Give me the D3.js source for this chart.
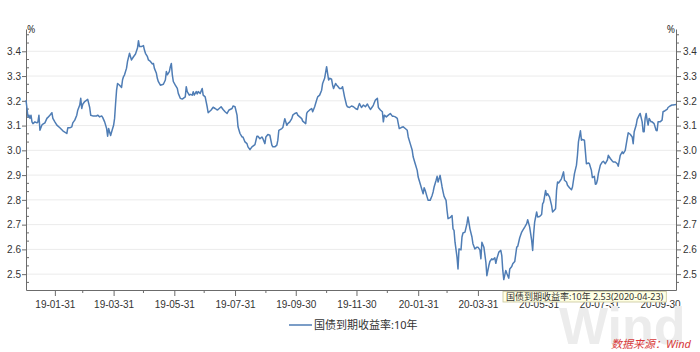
<!DOCTYPE html>
<html>
<head>
<meta charset="utf-8">
<script src="https://cdn.jsdelivr.net/npm/d3@7"></script>
<style>
  body { margin: 0; background: #fff; }
  svg { display: block; font-family: "Noto Sans", "Noto Sans CJK SC", sans-serif; }
</style>
</head>
<body>
<div id="chart-container"></div>
<script>
// DATA
const series = [
["2019-01-02",3.203],["2019-01-03",3.169],["2019-01-04",3.135],["2019-01-05",3.142],["2019-01-06",3.129],["2019-01-07",3.142],["2019-01-08",3.115],["2019-01-09",3.108],["2019-01-11",3.115],["2019-01-13",3.111],["2019-01-14",3.115],["2019-01-15",3.142],["2019-01-16",3.081],["2019-01-18",3.102],["2019-01-19",3.106],["2019-01-21",3.111],["2019-01-23",3.129],["2019-01-24",3.133],["2019-01-26",3.142],["2019-01-28",3.152],["2019-01-29",3.129],["2019-01-31",3.115],
["2019-02-02",3.102],["2019-02-05",3.091],["2019-02-08",3.079],["2019-02-12",3.068],["2019-02-13",3.091],["2019-02-15",3.091],["2019-02-17",3.095],["2019-02-18",3.111],["2019-02-20",3.122],["2019-02-22",3.142],["2019-02-23",3.162],["2019-02-25",3.183],["2019-02-26",3.210],["2019-02-27",3.169],["2019-02-28",3.186],
["2019-03-02",3.197],["2019-03-04",3.203],["2019-03-05",3.206],["2019-03-07",3.173],["2019-03-08",3.142],["2019-03-10",3.139],["2019-03-14",3.139],["2019-03-15",3.142],["2019-03-17",3.135],["2019-03-19",3.139],["2019-03-20",3.133],["2019-03-22",3.115],["2019-03-24",3.088],["2019-03-25",3.057],["2019-03-26",3.088],["2019-03-28",3.060],["2019-03-29",3.074],["2019-03-31",3.101],
["2019-04-01",3.129],["2019-04-02",3.189],["2019-04-03",3.243],["2019-04-04",3.270],["2019-04-06",3.263],["2019-04-08",3.254],["2019-04-09",3.285],["2019-04-10",3.298],["2019-04-11",3.305],["2019-04-13",3.332],["2019-04-14",3.359],["2019-04-16",3.392],["2019-04-17",3.378],["2019-04-18",3.365],["2019-04-20",3.378],["2019-04-22",3.389],["2019-04-24",3.413],["2019-04-25",3.443],["2019-04-26",3.419],["2019-04-28",3.419],["2019-04-30",3.423],
["2019-05-01",3.405],["2019-05-02",3.392],["2019-05-04",3.378],["2019-05-05",3.365],["2019-05-07",3.359],["2019-05-09",3.349],["2019-05-10",3.351],["2019-05-11",3.331],["2019-05-13",3.311],["2019-05-14",3.290],["2019-05-15",3.277],["2019-05-17",3.263],["2019-05-20",3.267],["2019-05-22",3.284],["2019-05-23",3.318],["2019-05-24",3.305],["2019-05-26",3.318],["2019-05-27",3.338],["2019-05-28",3.351],["2019-05-29",3.305],["2019-05-30",3.278],
["2019-06-01",3.263],["2019-06-03",3.250],["2019-06-04",3.230],["2019-06-06",3.210],["2019-06-08",3.207],["2019-06-09",3.210],["2019-06-11",3.216],["2019-06-12",3.257],["2019-06-13",3.237],["2019-06-15",3.223],["2019-06-16",3.226],["2019-06-18",3.223],["2019-06-19",3.237],["2019-06-20",3.223],["2019-06-22",3.237],["2019-06-23",3.228],["2019-06-24",3.237],["2019-06-26",3.230],["2019-06-28",3.250],["2019-06-29",3.223],
["2019-07-01",3.216],["2019-07-03",3.176],["2019-07-04",3.152],["2019-07-07",3.163],["2019-07-09",3.174],["2019-07-11",3.169],["2019-07-13",3.163],["2019-07-14",3.165],["2019-07-17",3.176],["2019-07-19",3.165],["2019-07-21",3.156],["2019-07-23",3.149],["2019-07-25",3.163],["2019-07-28",3.169],["2019-07-29",3.179],["2019-07-31",3.176],
["2019-08-02",3.142],["2019-08-03",3.095],["2019-08-05",3.068],["2019-08-07",3.054],["2019-08-08",3.054],["2019-08-10",3.034],["2019-08-12",3.027],["2019-08-13",3.014],["2019-08-15",3.003],["2019-08-17",3.014],["2019-08-18",3.017],["2019-08-20",3.023],["2019-08-22",3.057],["2019-08-23",3.057],["2019-08-25",3.047],["2019-08-27",3.054],["2019-08-28",3.047],["2019-08-30",3.027],["2019-08-31",3.054],
["2019-09-02",3.064],["2019-09-04",3.061],["2019-09-06",3.021],["2019-09-07",3.014],["2019-09-09",3.014],["2019-09-11",3.021],["2019-09-12",3.041],["2019-09-13",3.081],["2019-09-16",3.088],["2019-09-17",3.092],["2019-09-19",3.128],["2019-09-21",3.101],["2019-09-22",3.108],["2019-09-24",3.115],["2019-09-26",3.128],["2019-09-27",3.142],["2019-09-29",3.149],
["2019-10-01",3.152],["2019-10-02",3.142],["2019-10-04",3.135],["2019-10-06",3.128],["2019-10-07",3.118],["2019-10-10",3.108],["2019-10-11",3.149],["2019-10-12",3.156],["2019-10-14",3.163],["2019-10-16",3.169],["2019-10-17",3.156],["2019-10-19",3.176],["2019-10-21",3.203],["2019-10-22",3.216],["2019-10-24",3.223],["2019-10-26",3.243],["2019-10-27",3.270],["2019-10-29",3.291],["2019-10-31",3.338],
["2019-11-01",3.311],["2019-11-02",3.284],["2019-11-03",3.291],["2019-11-05",3.287],["2019-11-06",3.264],["2019-11-07",3.250],["2019-11-09",3.270],["2019-11-10",3.264],["2019-11-11",3.260],["2019-11-13",3.250],["2019-11-15",3.250],["2019-11-16",3.257],["2019-11-17",3.237],["2019-11-18",3.216],["2019-11-20",3.183],["2019-11-21",3.176],["2019-11-23",3.173],["2019-11-25",3.179],["2019-11-27",3.176],["2019-11-29",3.169],
["2019-12-01",3.165],["2019-12-02",3.179],["2019-12-03",3.189],["2019-12-05",3.173],["2019-12-07",3.183],["2019-12-09",3.176],["2019-12-11",3.187],["2019-12-12",3.179],["2019-12-14",3.165],["2019-12-16",3.176],["2019-12-17",3.183],["2019-12-19",3.203],["2019-12-21",3.210],["2019-12-22",3.173],["2019-12-24",3.163],["2019-12-26",3.156],["2019-12-27",3.115],["2019-12-28",3.142],["2019-12-30",3.135],
["2020-01-01",3.142],["2020-01-03",3.149],["2020-01-05",3.138],["2020-01-06",3.138],["2020-01-08",3.135],["2020-01-10",3.129],["2020-01-11",3.108],["2020-01-12",3.088],["2020-01-14",3.092],["2020-01-16",3.095],["2020-01-18",3.088],["2020-01-20",3.081],["2020-01-21",3.054],["2020-01-23",3.027],["2020-01-25",3.000],["2020-01-26",2.973],["2020-01-28",2.946],["2020-01-30",2.919],["2020-01-31",2.892],
["2020-02-02",2.865],["2020-02-04",2.838],["2020-02-05",2.825],["2020-02-06",2.849],["2020-02-07",2.839],["2020-02-09",2.811],["2020-02-10",2.798],["2020-02-12",2.798],["2020-02-14",2.818],["2020-02-15",2.832],["2020-02-16",2.852],["2020-02-18",2.879],["2020-02-19",2.895],["2020-02-20",2.872],["2020-02-22",2.899],["2020-02-24",2.852],["2020-02-25",2.832],["2020-02-26",2.814],["2020-02-28",2.798],["2020-02-29",2.757],
["2020-03-01",2.724],["2020-03-03",2.728],["2020-03-05",2.737],["2020-03-06",2.683],["2020-03-07",2.677],["2020-03-08",2.629],["2020-03-10",2.569],["2020-03-11",2.521],["2020-03-12",2.602],["2020-03-14",2.598],["2020-03-15",2.650],["2020-03-16",2.666],["2020-03-18",2.670],["2020-03-20",2.704],["2020-03-21",2.731],["2020-03-23",2.683],["2020-03-25",2.650],["2020-03-26",2.623],["2020-03-28",2.602],["2020-03-30",2.609],["2020-03-31",2.609],
["2020-04-02",2.598],["2020-04-03",2.562],["2020-04-04",2.629],["2020-04-06",2.609],["2020-04-08",2.548],["2020-04-09",2.494],["2020-04-11",2.535],["2020-04-12",2.551],["2020-04-14",2.562],["2020-04-15",2.558],["2020-04-17",2.566],["2020-04-18",2.544],["2020-04-19",2.562],["2020-04-21",2.589],["2020-04-23",2.596],["2020-04-24",2.575],["2020-04-25",2.515],["2020-04-26",2.478],["2020-04-28",2.515],["2020-04-29",2.504],
["2020-05-01",2.484],["2020-05-02",2.521],["2020-05-04",2.531],["2020-05-05",2.542],["2020-05-07",2.551],["2020-05-09",2.609],["2020-05-10",2.612],["2020-05-12",2.647],["2020-05-14",2.670],["2020-05-15",2.677],["2020-05-17",2.690],["2020-05-19",2.704],["2020-05-20",2.720],["2020-05-22",2.690],["2020-05-24",2.636],["2020-05-25",2.596],["2020-05-26",2.663],["2020-05-27",2.710],["2020-05-29",2.751],["2020-05-30",2.731],
["2020-06-01",2.733],["2020-06-03",2.741],["2020-06-04",2.784],["2020-06-05",2.791],["2020-06-07",2.838],["2020-06-08",2.818],["2020-06-09",2.825],["2020-06-11",2.811],["2020-06-13",2.778],["2020-06-14",2.751],["2020-06-15",2.755],["2020-06-17",2.764],["2020-06-18",2.838],["2020-06-19",2.872],["2020-06-20",2.868],["2020-06-22",2.879],["2020-06-23",2.886],["2020-06-25",2.913],["2020-06-26",2.879],["2020-06-28",2.872],["2020-06-29",2.859],
["2020-07-01",2.849],["2020-07-03",2.841],["2020-07-04",2.852],["2020-07-06",2.906],["2020-07-08",2.940],["2020-07-09",2.980],["2020-07-10",3.034],["2020-07-12",3.079],["2020-07-13",3.041],["2020-07-14",3.044],["2020-07-16",3.041],["2020-07-17",2.994],["2020-07-18",2.946],["2020-07-20",2.949],["2020-07-21",2.946],["2020-07-23",2.919],["2020-07-24",2.890],["2020-07-26",2.895],["2020-07-27",2.863],["2020-07-28",2.865],["2020-07-29",2.879],["2020-07-30",2.906],
["2020-08-01",2.940],["2020-08-03",2.953],["2020-08-04",2.956],["2020-08-06",2.946],["2020-08-08",2.960],["2020-08-09",2.980],["2020-08-11",2.967],["2020-08-13",2.957],["2020-08-14",2.953],["2020-08-16",2.953],["2020-08-18",2.946],["2020-08-19",2.936],["2020-08-21",2.980],["2020-08-23",2.994],["2020-08-24",2.987],["2020-08-26",3.000],["2020-08-28",3.048],["2020-08-29",3.071],["2020-08-31",3.065],
["2020-09-02",3.054],["2020-09-03",3.027],["2020-09-04",3.075],["2020-09-06",3.102],["2020-09-07",3.125],["2020-09-09",3.142],["2020-09-10",3.149],["2020-09-12",3.115],["2020-09-13",3.075],["2020-09-14",3.075],["2020-09-15",3.129],["2020-09-16",3.149],["2020-09-17",3.122],["2020-09-18",3.102],["2020-09-19",3.129],["2020-09-21",3.115],["2020-09-22",3.115],["2020-09-24",3.108],["2020-09-26",3.081],["2020-09-27",3.079],["2020-09-28",3.115],["2020-09-30",3.115],
["2020-10-02",3.122],["2020-10-03",3.156],["2020-10-05",3.160],["2020-10-07",3.165],["2020-10-08",3.173],["2020-10-10",3.179],["2020-10-12",3.183],["2020-10-13",3.183],["2020-10-16",3.185]
];

const yTicks = [2.5, 2.6, 2.7, 2.8, 2.9, 3.0, 3.1, 3.2, 3.3, 3.4];
const yDomain = [2.436, 3.49];
const xTicks = ["2019-01-31","2019-03-31","2019-05-31","2019-07-31","2019-09-30","2019-11-30",
                "2020-01-31","2020-03-31","2020-05-31","2020-07-31","2020-09-30"];
const xMinorTicks = ["2019-02-28","2019-04-30","2019-06-30","2019-08-31","2019-10-31","2019-12-31",
                     "2020-02-29","2020-04-30","2020-06-30","2020-08-31"];
const seriesName = "国债到期收益率:10年";
const unitLabel = "%";
const tooltipText = "国债到期收益率:10年 2.53(2020-04-23)";
const sourceText = "数据来源：Wind";

// 1. Setup
const width = 700;
const height = 352;
const margin = { top: 29, right: 24, bottom: 62, left: 26 };
const lineColor = "#4f7db5";
const axisColor = "#6b6b6b";
const textColor = "#333";

const parse = d3.timeParse("%Y-%m-%d");
const data = series.map(d => ({ date: parse(d[0]), value: d[1] }));

d3.select("#chart-container").html("");
const svg = d3.select("#chart-container")
    .append("svg")
    .attr("width", width)
    .attr("height", height);

// 2. Scales
const x = d3.scaleTime()
    .domain(d3.extent(data, d => d.date))
    .range([margin.left, width - margin.right]);

const y = d3.scaleLinear()
    .domain(yDomain)
    .range([height - margin.bottom, margin.top]);

// 3. Gridlines
svg.append("g")
    .selectAll("line")
    .data(yTicks)
    .join("line")
    .attr("x1", margin.left)
    .attr("x2", width - margin.right)
    .attr("y1", d => y(d))
    .attr("y2", d => y(d))
    .attr("stroke", "#ebebeb")
    .attr("stroke-width", 1);

// minor ticks: two between each labelled tick
const step = yTicks[1] - yTicks[0];
const yMinor = [];
for (let v = yTicks[0] - step; v <= yTicks[yTicks.length - 1] + step; v += step) {
    [1, 2].forEach(k => {
        const m = v + k * step / 3;
        if (m > yDomain[0] && m < yDomain[1]) yMinor.push(m);
    });
}

// 4. Axes
function styleAxis(g) {
    g.selectAll(".domain").attr("stroke", axisColor);
    g.selectAll(".tick line").attr("stroke", axisColor);
    g.selectAll(".tick text").attr("fill", textColor).style("font-size", "10px");
}

const leftAxis = svg.append("g")
    .attr("transform", `translate(${margin.left},0)`)
    .call(d3.axisLeft(y).tickValues(yTicks).tickFormat(d3.format(".1f")).tickSize(4).tickSizeOuter(0).tickPadding(1))
    .call(styleAxis);

const rightAxis = svg.append("g")
    .attr("transform", `translate(${width - margin.right},0)`)
    .call(d3.axisRight(y).tickValues(yTicks).tickFormat(d3.format(".1f")).tickSize(5).tickSizeOuter(0).tickPadding(2))
    .call(styleAxis);

leftAxis.append("g").selectAll("line")
    .data(yMinor).join("line")
    .attr("x1", 0).attr("x2", 3)
    .attr("y1", d => y(d)).attr("y2", d => y(d))
    .attr("stroke", axisColor);

rightAxis.append("g").selectAll("line")
    .data(yMinor).join("line")
    .attr("x1", 0).attr("x2", 3)
    .attr("y1", d => y(d)).attr("y2", d => y(d))
    .attr("stroke", axisColor);

const bottomAxis = svg.append("g")
    .attr("transform", `translate(0,${height - margin.bottom})`)
    .call(d3.axisBottom(x).tickValues(xTicks.map(parse)).tickFormat(d3.timeFormat("%y-%m-%d")).tickSize(6).tickSizeOuter(0).tickPadding(5))
    .call(styleAxis);

bottomAxis.append("g").selectAll("line")
    .data(xMinorTicks.map(parse)).join("line")
    .attr("x1", d => x(d)).attr("x2", d => x(d))
    .attr("y1", 0).attr("y2", 3)
    .attr("stroke", axisColor);

// unit labels
svg.append("text")
    .attr("x", margin.left + 1)
    .attr("y", margin.top + 4)
    .attr("fill", textColor)
    .style("font-size", "10px")
    .text(unitLabel);

svg.append("text")
    .attr("x", width - margin.right - 1)
    .attr("y", margin.top + 4)
    .attr("text-anchor", "end")
    .attr("fill", textColor)
    .style("font-size", "10px")
    .text(unitLabel);

// 5. Line
const line = d3.line()
    .x(d => x(d.date))
    .y(d => y(d.value));

svg.append("path")
    .datum(data)
    .attr("fill", "none")
    .attr("stroke", lineColor)
    .attr("stroke-width", 1.5)
    .attr("stroke-linejoin", "round")
    .attr("d", line);

// 6. Legend
svg.append("line")
    .attr("x1", 289).attr("x2", 312)
    .attr("y1", 325).attr("y2", 325)
    .attr("stroke", lineColor)
    .attr("stroke-width", 1.5);

svg.append("text")
    .attr("x", 314)
    .attr("y", 329)
    .attr("fill", textColor)
    .style("font-size", "11px")
    .text(seriesName);

// 7. Watermark + source
svg.append("text")
    .attr("x", 559)
    .attr("y", 344)
    .attr("fill", "#ececec")
    .style("font-size", "52px")
    .style("font-weight", "bold")
    .style("font-family", "Arial, 'Liberation Sans', sans-serif")
    .text("Wind");

svg.append("text")
    .attr("x", 691)
    .attr("y", 348)
    .attr("text-anchor", "end")
    .attr("fill", "#d83a3a")
    .style("font-size", "11px")
    .style("font-style", "italic")
    .text(sourceText);

// 8. Tooltip box (as in the captured picture)
const tip = svg.append("g").attr("transform", "translate(503,291.5)");
const tipText = tip.append("text")
    .attr("x", 3)
    .attr("y", 8)
    .attr("fill", textColor)
    .style("font-size", "9px")
    .text(tooltipText);
const tw = tipText.node().getComputedTextLength();
tip.insert("rect", "text")
    .attr("width", tw + 6)
    .attr("height", 10.5)
    .attr("fill", "#ffffe4")
    .attr("stroke", "#c9c59a")
    .attr("stroke-width", 0.8);
</script>
</body>
</html>
